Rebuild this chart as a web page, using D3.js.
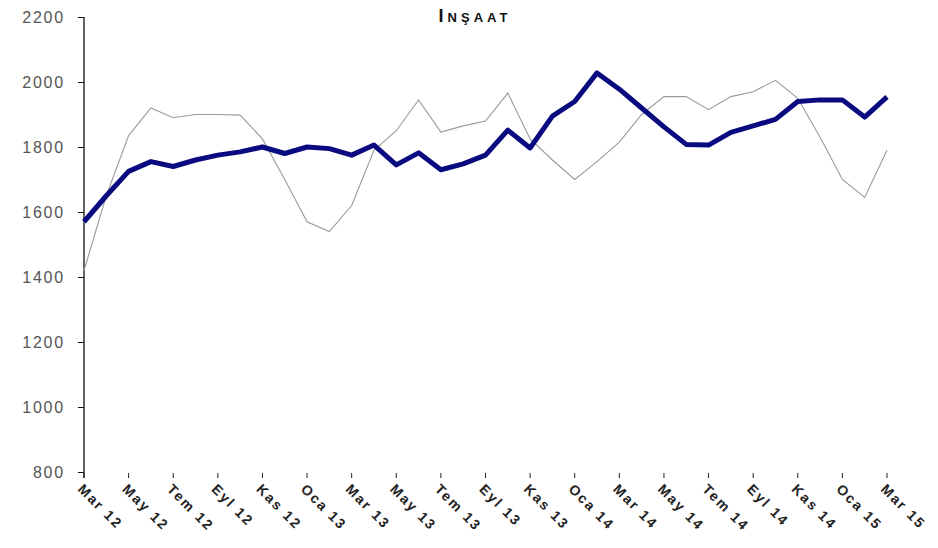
<!DOCTYPE html>
<html><head><meta charset="utf-8">
<script src="https://cdn.jsdelivr.net/npm/d3@7"></script>
<style>body{margin:0;background:#fff}svg{display:block}</style>
</head><body>
<svg id="chart" width="938" height="548"></svg>
<script>
const months = ["Mar 12","Nis 12","May 12","Haz 12","Tem 12","Ağu 12","Eyl 12","Eki 12","Kas 12","Ara 12",
"Oca 13","Şub 13","Mar 13","Nis 13","May 13","Haz 13","Tem 13","Ağu 13","Eyl 13","Eki 13","Kas 13","Ara 13",
"Oca 14","Şub 14","Mar 14","Nis 14","May 14","Haz 14","Tem 14","Ağu 14","Eyl 14","Eki 14","Kas 14","Ara 14",
"Oca 15","Şub 15","Mar 15"];
const trendValues = [1570,1650,1725,1755,1740,1760,1775,1785,1800,1780,1800,1795,1775,1806,1745,1782,1730,1748,1775,1852,1797,1895,1940,2028,1978,1920,1862,1808,1806,1845,1865,1885,1940,1945,1945,1892,1954];
const rawValues = [1420,1650,1835,1920,1890,1900,1900,1898,1825,1700,1570,1540,1620,1790,1850,1945,1846,1865,1880,1966,1825,1760,1700,1755,1815,1900,1955,1955,1915,1955,1970,2005,1950,1830,1700,1645,1790];
const yTicks = [800,1000,1200,1400,1600,1800,2000,2200];
const title = "INŞAAT";

const svg = d3.select("#chart");
const x = d3.scalePoint().domain(months).range([84, 887]);
const y = d3.scaleLinear().domain([800, 2200]).range([472, 17]);

// y axis
const yAxis = d3.axisLeft(y).tickValues(yTicks).tickSize(6).tickFormat(d3.format("d"));
const gy = svg.append("g").attr("transform","translate(84,0)").call(yAxis);
gy.select(".domain").attr("d","M0,17V478").attr("stroke","#111").attr("stroke-width",1.3);
gy.selectAll(".tick line").attr("stroke","#111");
gy.selectAll(".tick text").attr("x",-19).attr("font-family","Arial, Liberation Sans, sans-serif")
  .attr("font-size",16).attr("letter-spacing",1.8).attr("fill","#555");

// x axis ticks (every 2 months)
const labelled = months.filter((d,i)=>i%2===0);
const gx = svg.append("g").attr("transform","translate(0,472)");
gx.selectAll("line").data(labelled).join("line")
  .attr("x1",d=>x(d)).attr("x2",d=>x(d)).attr("y1",1).attr("y2",6).attr("stroke","#222");
gx.selectAll("text").data(labelled).join("text")
  .attr("transform",d=>`translate(${x(d)-7},${18}) rotate(45)`)
  .attr("font-family","Arial, Liberation Sans, sans-serif").attr("font-weight","bold")
  .attr("font-size",14).attr("letter-spacing",2).attr("fill","#222").text(d=>d);

// lines
const line = d3.line().x((d,i)=>x(months[i])).y(d=>y(d));
svg.append("path").datum(rawValues).attr("d",line).attr("fill","none")
  .attr("stroke","#9a9a9a").attr("stroke-width",1.1);
svg.append("path").datum(trendValues).attr("d",line).attr("fill","none")
  .attr("stroke","#0a0a80").attr("stroke-width",5).attr("stroke-linejoin","round");

// title
const t = svg.append("text").attr("x",475).attr("y",22).attr("text-anchor","middle")
  .attr("font-family","Arial, Liberation Sans, sans-serif").attr("font-weight","bold")
  .attr("letter-spacing",4).attr("fill","#111");
t.append("tspan").attr("font-size",18).text(title[0]);
t.append("tspan").attr("font-size",13).text(title.slice(1));
</script>
</body></html>
